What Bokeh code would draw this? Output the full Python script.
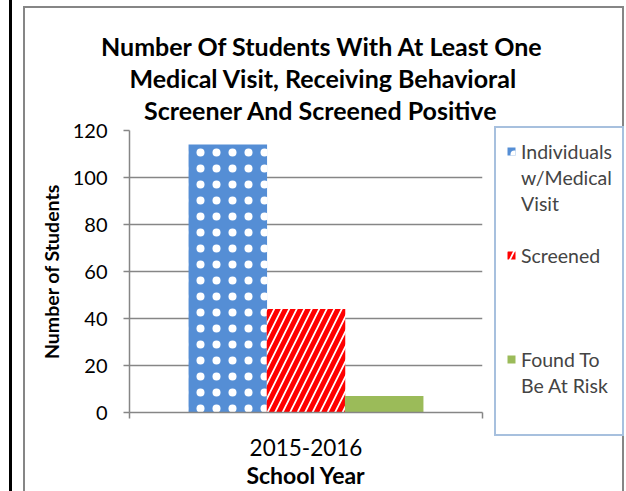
from bokeh.plotting import figure
from bokeh.models import (Range1d, LinearAxis, FixedTicker, Legend,
                          LegendItem, Title, ColumnDataSource)
from bokeh.transform import dodge
from bokeh.embed import file_html
from bokeh.resources import INLINE

# ---- data ----
years = ["2015-2016"]
series_names = ["Individuals w/Medical Visit", "Screened", "Found To Be At Risk"]
individuals = [114]
screened = [44]
at_risk = [7]
y_ticks = [0, 20, 40, 60, 80, 100, 120]
title_lines = ["Number  Of Students With At Least One",
               "Medical Visit, Receiving Behavioral",
               "Screener And Screened Positive"]
# legend rows: (text, series index or None)
legend_rows = [("Individuals", 0), ("w/Medical", None), ("Visit", None), (" ", None),
               ("Screened", 1), (" ", None), (" ", None), (" ", None),
               ("Found To", 2), ("Be At Risk", None), (" ", None)]

FONT = "Lato"
GRAY = "#868686"

pos = list(range(len(years)))
src = ColumnDataSource(dict(pos=pos, ind=individuals, scr=screened, risk=at_risk))

bg = ("linear-gradient(#000,#000) 9px 0px / 3px 100% no-repeat, "
      "linear-gradient(#868686,#868686) 23px 6px / 2px 100% no-repeat, "
      "linear-gradient(#868686,#868686) 23px 6px / 601px 2px no-repeat, "
      "linear-gradient(#868686,#868686) 622px 6px / 2px 100% no-repeat, white")

p = figure(x_range=Range1d(-0.5, len(years) - 0.5), y_range=Range1d(0, 120),
           frame_width=353, frame_height=282,
           min_border_left=129, min_border_right=144, min_border_top=130, min_border_bottom=79,
           x_axis_location=None,
           output_backend="svg", toolbar_location=None,
           styles={"background": bg})
p.outline_line_color = None
p.background_fill_color = "white"
p.border_fill_color = None

w = 0.2224
r1 = p.vbar(x=dodge("pos", -0.2215), top="ind", width=w, source=src,
            fill_color="#558ED5", line_color=None,
            hatch_pattern="dot", hatch_color="white", hatch_scale=16, hatch_weight=1)
r2 = p.vbar(x=dodge("pos", 0.0), top="scr", width=w, source=src,
            fill_color="white", line_color=None,
            hatch_pattern="right_diagonal_line", hatch_color="#FF0000", hatch_scale=15, hatch_weight=5)
r3 = p.vbar(x=dodge("pos", 0.2215), top="risk", width=w, source=src,
            fill_color="#9BBB59", line_color=None)
series_renderers = [r1, r2, r3]

# y axis
yax = p.yaxis[0]
yax.ticker = FixedTicker(ticks=y_ticks)
yax.axis_line_color = GRAY
yax.axis_line_width = 1.5
yax.major_tick_line_color = GRAY
yax.major_tick_line_width = 1.5
yax.major_tick_out = 6
yax.major_tick_in = 0
yax.minor_tick_line_color = None
yax.major_label_standoff = 16
yax.major_label_text_font = FONT
yax.major_label_text_font_size = "20px"
yax.major_label_text_color = "black"
yax.axis_label = "Number of Students"
yax.axis_label_text_font = FONT
yax.axis_label_text_font_style = "bold"
yax.axis_label_text_font_size = "19.5px"
yax.axis_label_text_color = "black"
yax.axis_label_standoff = 7

p.ygrid.ticker = FixedTicker(ticks=y_ticks)
p.ygrid.grid_line_color = GRAY
p.ygrid.grid_line_width = 1.5
p.xgrid.grid_line_color = None

# x axis line with category-boundary ticks (labels not drawn)
bounds = [i - 0.5 for i in range(len(years) + 1)]
edge_ax = LinearAxis(ticker=FixedTicker(ticks=bounds))
edge_ax.axis_line_color = GRAY
edge_ax.axis_line_width = 1.5
edge_ax.major_tick_line_color = GRAY
edge_ax.major_tick_line_width = 1.5
edge_ax.major_tick_out = 6
edge_ax.major_tick_in = 0
edge_ax.minor_tick_line_color = None
edge_ax.major_label_text_font_size = "1px"
edge_ax.major_label_text_color = None
edge_ax.major_label_standoff = 0
p.add_layout(edge_ax, "below")

# category labels
xax = LinearAxis(ticker=FixedTicker(ticks=pos),
                 major_label_overrides={i: y for i, y in zip(pos, years)})
xax.axis_line_color = None
xax.major_tick_line_color = None
xax.minor_tick_line_color = None
xax.major_label_text_font = FONT
xax.major_label_text_font_size = "22.5px"
xax.major_label_text_color = "black"
xax.major_label_standoff = 14
xax.axis_label = "School Year"
xax.axis_label_text_font = FONT
xax.axis_label_text_font_style = "bold"
xax.axis_label_text_font_size = "23px"
xax.axis_label_text_color = "black"
xax.axis_label_standoff = 2
p.add_layout(xax, "below")

# invisible spacer between frame and title (tick and label not drawn)
spacer = LinearAxis(ticker=FixedTicker(ticks=[0]), axis_line_color=None,
                    major_tick_line_color="white", major_tick_line_alpha=0,
                    minor_tick_line_color=None,
                    major_label_text_color=None, major_label_text_font_size="1px",
                    major_tick_out=6, major_tick_in=0, major_label_standoff=0)
p.add_layout(spacer, "above")

# title lines (closest to the frame first), each centred on the chart area
title_offsets = [-28.5, 0, 14.5]
for line, off in reversed(list(zip(title_lines, title_offsets))):
    p.add_layout(Title(text=line, align="left", offset=off, text_font=FONT, text_font_style="bold",
                       text_font_size="25px", text_color="black", standoff=0), "above")

items = [LegendItem(label=t, renderers=[series_renderers[i]] if i is not None else [])
         for t, i in legend_rows]
legend = Legend(items=items,
                location=(12, -24), border_line_color="#4F81BD", border_line_width=2,
                background_fill_color="white", background_fill_alpha=1,
                label_text_font=FONT, label_text_font_size="19.5px",
                label_height=26, glyph_width=10, glyph_height=10, label_standoff=5, label_width=80,
                spacing=0, padding=10, margin=0)
p.add_layout(legend, "right")

with open("out.html", "w") as f:
    f.write(file_html(p, INLINE))
